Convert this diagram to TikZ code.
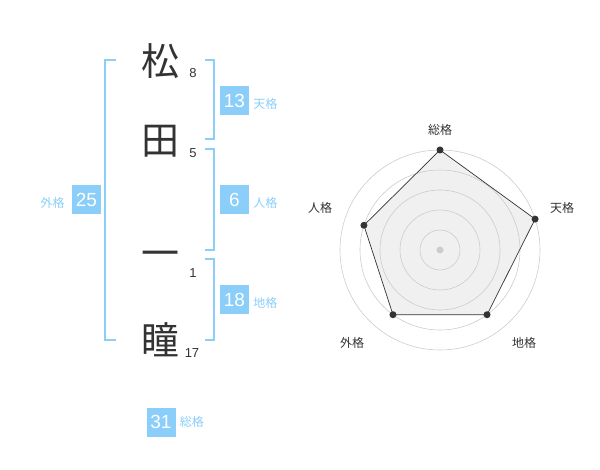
\documentclass[tikz,border=0pt]{standalone}
\usepackage{fontspec}
\setmainfont{Liberation Sans}
\newfontfamily\jp{Noto Sans CJK JP}
\usetikzlibrary{positioning}

\definecolor{skyb}{HTML}{8ACEF9}
\definecolor{ink}{HTML}{333333}
\definecolor{ring}{HTML}{CCCCCC}

\begin{document}
\begin{tikzpicture}[x=1pt, y=-1pt, node distance=4pt,
    kanji/.style={font=\jp\fontsize{38}{38}\selectfont, text=ink, inner sep=0pt},
    strokes/.style={font=\fontsize{13}{13}\selectfont, text=ink, inner sep=0pt},
    score/.style={fill=skyb, text=white, minimum size=29pt, inner sep=0pt,
                  font=\fontsize{19}{19}\selectfont},
    kaku/.style={font=\jp\fontsize{12}{12}\selectfont, text=skyb, inner sep=0pt},
    brace/.style={draw=skyb, line width=1.5pt},
    axislabel/.style={font=\jp\fontsize{12}{12}\selectfont, text=ink}]
    \useasboundingbox (0,0) rectangle (600,470);

    % name
    \node[kanji]    (k1)    at (160,61)     {松};
    \node[kanji]    (k2)    at (160,141)    {田};
    \node[kanji]    (k3)    at (160,259)    {一};
    \node[kanji]    (k4)    at (160,340)    {瞳};
    \node[strokes]  (s1)    at (193,73)     {8};
    \node[strokes]  (s2)    at (193,153)    {5};
    \node[strokes]  (s3)    at (193,273)    {1};
    \node[strokes]  (s4)    at (192,353)    {17};

    % brackets
    \draw[brace] (116,60) -| (105,340) -- (116,340);
    \draw[brace] (205,60) -| (214,139) -- (205,139);
    \draw[brace] (205,149) -| (214,250) -- (205,250);
    \draw[brace] (205,259) -| (214,340) -- (205,340);

    % scores
    \node[score]    (ten)   at (234.5,100.5)    {13};
    \node[score]    (jin)   at (234.5,200)      {6};
    \node[score]    (chi)   at (234.5,300)      {18};
    \node[score]    (gai)   at (86.5,200)       {25};
    \node[score]    (sou)   at (161,422)        {31};
    \node[kaku, right=of ten, yshift=-3pt]      {天格};
    \node[kaku, right=of jin, yshift=-3pt]      {人格};
    \node[kaku, right=of chi, yshift=-3pt]      {地格};
    \node[kaku, left=7pt of gai, yshift=-3pt]   {外格};
    \node[kaku, right=of sou]                   {総格};

    % radar
    \coordinate (C) at (440,250);
    \foreach \n/\a/\r in {psou/90/100, pten/18/100, pchi/-54/80, pgai/-126/80, pjin/162/80}
        \path (C) ++(\a:\r pt) coordinate (\n);
    \fill[black!6] (psou) -- (pten) -- (pchi) -- (pgai) -- (pjin) -- cycle;
    \foreach \r in {20,40,60,80,100}
        \draw[ring, line width=0.6pt] (C) circle (\r pt);
    \draw[ink, line width=0.7pt]
        (psou) -- (pten) -- (pchi) -- (pgai) -- (pjin) -- cycle;
    \foreach \n in {psou,pten,pchi,pgai,pjin}
        \fill[ink] (\n) circle (3.5pt);
    \fill[ring] (C) circle (3.5pt);

    \node[axislabel] (lsou) at (440,130) {総格};
    \node[axislabel] (lten) at (562,208) {天格};
    \node[axislabel] (ljin) at (320,208) {人格};
    \node[axislabel] (lgai) at (352,343) {外格};
    \node[axislabel] (lchi) at (524,343) {地格};
\end{tikzpicture}
\end{document}
